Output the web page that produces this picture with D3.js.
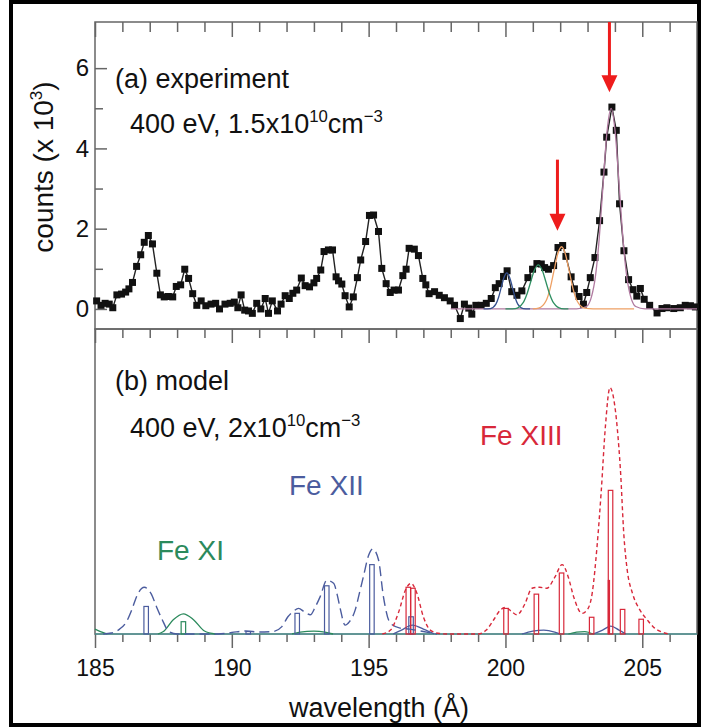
<!DOCTYPE html>
<html><head><meta charset="utf-8">
<script src="https://cdn.jsdelivr.net/npm/d3@7"></script>
<style>
body{margin:0;background:#fff}
text{font-family:"Liberation Sans",Arial,Helvetica,sans-serif}
</style>
</head><body>
<svg id="c" width="702" height="728"></svg>
<script>
// ---------------- DATA ----------------
const xTickLabels = [185, 190, 195, 200, 205];
const yTickLabels = [0, 2, 4, 6];

// (a) experiment: [wavelength Å, counts x10^3]
const expSpectrum = [
[185.06,0.20],[185.22,0.09],[185.37,0.14],[185.52,0.12],[185.65,0.03],[185.80,0.35],[185.97,0.37],[186.12,0.42],
[186.24,0.50],[186.37,0.66],[186.52,1.06],[186.67,1.35],[186.80,1.66],[186.95,1.83],[187.10,1.62],[187.26,0.89],
[187.39,0.35],[187.53,0.30],[187.68,0.31],[187.84,0.30],[187.97,0.56],[188.13,0.60],[188.28,0.99],[188.42,0.76],
[188.57,0.38],[188.72,0.09],[188.88,0.20],[189.05,0.08],[189.24,0.12],[189.41,0.14],[189.55,0.00],[189.75,0.12],
[189.94,0.14],[190.09,0.17],[190.22,0.03],[190.34,0.35],[190.47,-0.03],[190.61,-0.05],[190.75,-0.11],[190.91,0.14],
[191.06,0.00],[191.22,0.26],[191.34,-0.11],[191.48,0.20],[191.67,-0.05],[191.80,0.12],[191.95,0.33],[192.10,0.26],
[192.23,0.39],[192.37,0.47],[192.54,0.77],[192.68,0.58],[192.84,0.55],[193.00,0.65],[193.10,0.76],[193.25,0.97],
[193.37,1.43],[193.53,1.47],[193.68,1.47],[193.81,0.80],[193.90,0.70],[194.02,0.62],[194.14,0.33],[194.29,0.05],
[194.44,0.30],[194.59,0.78],[194.71,1.22],[194.89,1.68],[195.03,2.33],[195.18,2.34],[195.36,1.93],[195.48,1.01],
[195.64,0.63],[195.79,0.41],[195.93,0.47],[196.09,0.47],[196.25,0.83],[196.37,0.99],[196.48,1.51],[196.67,1.49],
[196.82,1.33],[196.98,0.76],[197.09,0.60],[197.21,0.38],[197.41,0.43],[197.58,0.34],[197.77,0.28],[197.98,0.20],
[198.14,0.09],[198.35,-0.24],[198.50,0.12],[198.66,0.02],[198.77,-0.13],[198.92,0.09],[199.11,0.09],[199.30,0.14],
[199.48,0.26],[199.63,0.53],[199.77,0.63],[199.93,0.81],[200.06,0.95],[200.23,0.43],[200.42,0.34],[200.60,0.45],
[200.82,0.78],[200.99,0.99],[201.15,1.13],[201.31,1.12],[201.43,1.03],[201.57,0.99],[201.76,1.08],[201.92,1.53],
[202.09,1.58],[202.21,1.31],[202.40,0.80],[202.52,0.50],[202.69,0.31],[202.85,0.12],[202.97,0.41],[203.10,0.78],
[203.27,1.28],[203.44,2.20],[203.60,3.41],[203.70,4.28],[203.89,5.03],[204.05,4.45],[204.17,2.62],[204.33,1.45],
[204.50,0.73],[204.66,0.48],[204.80,0.32],[204.93,0.51],[205.07,0.24],[205.27,0.09],[205.54,-0.10],[205.72,0.01],
[205.90,0.03],[206.15,0.01],[206.39,0.03],[206.57,0.09],[206.76,0.08],[206.94,0.05]
];

// fitted line profiles in (a)
const fitBlue = [[199.2,0],[199.45,0.01],[199.65,0.12],[199.75,0.29],[199.85,0.55],[199.95,0.79],[200.05,0.90],[200.15,0.79],[200.25,0.55],[200.35,0.29],[200.45,0.12],[200.65,0.01],[200.9,0]];
const fitGreen = [[200.0,0],[200.36,0.01],[200.64,0.15],[200.78,0.36],[200.92,0.67],[201.06,0.97],[201.2,1.10],[201.34,0.97],[201.48,0.67],[201.62,0.36],[201.76,0.15],[202.04,0.01],[202.3,0]];
const fitOrange = [[201.0,0],[201.21,0.02],[201.49,0.21],[201.63,0.50],[201.77,0.94],[201.91,1.37],[202.05,1.55],[202.19,1.37],[202.33,0.94],[202.47,0.50],[202.61,0.21],[202.89,0.02],[203.2,0],[204.7,0]];
const fitPurple = [[198.0,0],[202.6,0],[202.96,0.06],[203.26,0.68],[203.41,1.62],[203.56,3.03],[203.71,4.41],[203.86,5.0],[204.01,4.41],[204.16,3.03],[204.31,1.62],[204.46,0.68],[204.76,0.06],[205.1,0],[207,0]];

// red arrows in (a): wavelength, tail value, tip value
const arrowWavelength = [201.9, 203.8];
const arrowTail = [3.72, 7.15];
const arrowTip = [1.95, 5.40];

// (b) model (arbitrary units)
const feXIIIcurve = [[195.5,0],[195.8,0.08],[196.1,0.45],[196.35,0.9],[196.55,1.03],[196.75,0.85],[197.0,0.35],[197.25,0.08],[197.6,0.01],[197.9,0],
[199.0,0],[199.3,0.08],[199.57,0.29],[199.8,0.48],[200.0,0.54],[200.2,0.47],[200.42,0.39],[200.7,0.6],[200.97,0.93],[201.25,0.95],[201.51,0.93],
[201.8,1.15],[202.07,1.41],[202.3,1.15],[202.49,0.76],[202.8,0.42],[203.0,0.5],[203.17,0.83],[203.35,1.8],[203.5,2.9],[203.65,4.2],[203.82,5.01],
[203.95,4.8],[204.09,4.16],[204.2,3.35],[204.33,1.99],[204.45,1.3],[204.64,0.83],[204.9,0.5],[205.18,0.29],[205.45,0.12],[205.67,0.05],[205.98,0]];
const feXIIcurve = [[185.3,0],[185.6,0.02],[185.9,0.1],[186.15,0.25],[186.35,0.5],[186.55,0.8],[186.8,0.95],[187.05,0.82],[187.25,0.55],[187.45,0.3],[187.7,0.05],[188.0,0],
[189.5,0],[190.0,0.03],[190.5,0.06],[191.0,0.04],[191.5,0.05],[191.83,0.15],[192.05,0.35],[192.25,0.46],[192.44,0.52],[192.65,0.45],[192.87,0.39],[193.05,0.55],
[193.23,0.76],[193.47,1.09],[193.72,1.03],[193.85,0.8],[193.96,0.52],[194.14,0.18],[194.3,0.25],[194.51,0.49],[194.65,0.8],[194.81,1.17],[195.0,1.6],[195.15,1.73],
[195.36,1.51],[195.54,0.76],[195.79,0.22],[196.15,0.12],[196.5,0.1],[197.0,0.05],[197.5,0]];
const feXIIsolid = [
[[195.9,0],[196.2,0.08],[196.6,0.18],[197.0,0.1],[197.4,0]],
[[200.6,0],[201.0,0.06],[201.4,0.08],[201.8,0.04],[202.0,0]],
[[203.2,0],[203.55,0.08],[203.85,0.16],[204.15,0.08],[204.4,0]]];
const feXIsolid = [
[[185.0,0.1],[185.2,0.05],[185.45,0]],
[[187.3,0],[187.5,0.05],[187.86,0.29],[188.23,0.41],[188.6,0.29],[189.0,0.06],[189.4,0]],
[[192.2,0],[192.5,0.04],[193.0,0.06],[193.4,0.04],[193.7,0]],
[[202.3,0],[202.6,0.04],[202.9,0.05],[203.2,0]]];
const feXIIIbars = [[196.45,0.95],[196.62,0.93],[200.02,0.52],[201.13,0.81],[202.05,1.24],[203.15,0.34],[203.84,2.92],[204.28,0.5],[204.96,0.3]];
const feXIIIfilled = [[203.78,1.1]];
const feXIIbars = [[186.87,0.56],[190.6,0.05],[192.39,0.42],[193.47,0.98],[195.12,1.41],[196.55,0.35]];
const feXIbars = [[188.23,0.25]];

// ---------------- DRAW ----------------
const svg = d3.select("#c");
const L = 95, R = 697, T1 = 22, B1 = 329, T2 = 329, B2 = 634;
const FONT = "Liberation Sans, Arial, sans-serif";
const frameCol = "#666";
const ANN = 27;

const x = d3.scaleLinear().domain([185, 207]).range([L, R]);
const y1 = d3.scaleLinear().domain([-0.5, 7.15]).range([B1, T1]);
const y2 = d3.scaleLinear().domain([0, 6.2]).range([B2, T2]);

const minorX = d3.range(186, 207, 1).filter(v => v % 5 !== 0);
const majorX = d3.range(185, 208, 5);

// outer frame
svg.append("rect").attr("x", 11).attr("y", 2).attr("width", 688).attr("height", 723)
  .attr("fill", "none").attr("stroke", "#000").attr("stroke-width", 4);

function styleAxis(g){
  g.select(".domain").remove();
  g.selectAll("line").attr("stroke", frameCol).attr("stroke-width", 1.5);
  g.selectAll("text").attr("font-family", FONT).attr("fill", "#111");
}

// top panel top ticks (inward)
svg.append("g").attr("transform", `translate(0,${T1})`)
  .call(d3.axisBottom(x).tickValues(majorX).tickSize(15).tickFormat("")).call(styleAxis);
svg.append("g").attr("transform", `translate(0,${T1})`)
  .call(d3.axisBottom(x).tickValues(minorX).tickSize(10).tickFormat("")).call(styleAxis);
// bottom panel top ticks (inward)
svg.append("g").attr("transform", `translate(0,${T2})`)
  .call(d3.axisBottom(x).tickValues(majorX).tickSize(14).tickFormat("")).call(styleAxis);
svg.append("g").attr("transform", `translate(0,${T2})`)
  .call(d3.axisBottom(x).tickValues(minorX).tickSize(9).tickFormat("")).call(styleAxis);
// bottom axis (outward) with labels
svg.append("g").attr("transform", `translate(0,${B2})`)
  .call(d3.axisBottom(x).tickValues(xTickLabels).tickSize(14).tickPadding(12).tickFormat(d3.format("d")))
  .call(styleAxis).call(g => g.selectAll("text").attr("font-size", 23));
svg.append("g").attr("transform", `translate(0,${B2})`)
  .call(d3.axisBottom(x).tickValues(minorX).tickSize(8).tickFormat("")).call(styleAxis);
// left y ticks of top panel (inward)
svg.append("g").attr("transform", `translate(${L},0)`)
  .call(d3.axisRight(y1).tickValues(yTickLabels).tickSize(12).tickFormat("")).call(styleAxis);
svg.append("g").attr("transform", `translate(${L},0)`)
  .call(d3.axisRight(y1).tickValues([1,3,5]).tickSize(8).tickFormat("")).call(styleAxis);
svg.append("g").attr("transform", `translate(${L},0)`)
  .call(d3.axisLeft(y1).tickValues(yTickLabels).tickSize(0).tickPadding(6).tickFormat(d3.format("d")))
  .call(styleAxis).call(g => g.selectAll("text").attr("font-size", 24));

// panel frames
svg.append("rect").attr("x", L).attr("y", T1).attr("width", R - L).attr("height", B1 - T1)
  .attr("fill", "none").attr("stroke", frameCol).attr("stroke-width", 1.5);
svg.append("rect").attr("x", L).attr("y", T2).attr("width", R - L).attr("height", B2 - T2)
  .attr("fill", "none").attr("stroke", frameCol).attr("stroke-width", 1.5);

// ---- panel (a) ----
const lineA = d3.line().x(d => x(d[0])).y(d => y1(d[1]));
const smoothA = d3.line().x(d => x(d[0])).y(d => y1(d[1])).curve(d3.curveMonotoneX);

svg.append("path").datum(expSpectrum).attr("d", lineA)
  .attr("fill", "none").attr("stroke", "#222").attr("stroke-width", 1.4);
svg.append("g").selectAll("rect").data(expSpectrum).join("rect")
  .attr("x", d => x(d[0]) - 3.5).attr("y", d => y1(d[1]) - 3.5)
  .attr("width", 7).attr("height", 7).attr("fill", "#111");

[[fitPurple, "#b07aa0"], [fitOrange, "#eea064"], [fitBlue, "#34508f"], [fitGreen, "#2f8f62"]].forEach(([dat, col]) => {
  svg.append("path").datum(dat).attr("d", smoothA)
    .attr("fill", "none").attr("stroke", col).attr("stroke-width", 1.3);
});

// arrows
const arrowCol = "#ee1c1c";
arrowWavelength.forEach((w, i) => {
  const ax = x(w), yt = y1(arrowTail[i]), yp = y1(arrowTip[i]);
  svg.append("line").attr("x1", ax).attr("x2", ax).attr("y1", yt).attr("y2", yp - 14)
    .attr("stroke", arrowCol).attr("stroke-width", 3);
  svg.append("path").attr("d", `M${ax-8},${yp-17} L${ax+8},${yp-17} L${ax},${yp} Z`).attr("fill", arrowCol);
});

// annotation text helper
function sciText(g, xp, yp, parts, fs, fill){
  const t = g.append("text").attr("x", xp).attr("y", yp).attr("font-size", fs).attr("fill", fill || "#111");
  parts.forEach(p => {
    if (p.sup) t.append("tspan").attr("dy", -fs*0.42).attr("font-size", fs*0.62).text(p.t);
    else if (p.after) t.append("tspan").attr("dy", fs*0.42).text(p.t);
    else t.append("tspan").text(p.t);
  });
  return t;
}
sciText(svg, 115, 88, [{t:"(a) experiment"}], ANN);
sciText(svg, 130, 133, [{t:"400 eV, 1.5x10"},{t:"10",sup:1},{t:"cm",after:1},{t:"\u22123",sup:1}], ANN);
sciText(svg, 115, 390, [{t:"(b) model"}], ANN);
sciText(svg, 130, 437, [{t:"400 eV, 2x10"},{t:"10",sup:1},{t:"cm",after:1},{t:"\u22123",sup:1}], ANN);

// ---- panel (b) ----
const colXIII = "#d8283a", colXII = "#4b5c9e", colXI = "#2b8a5c";
const lineB = d3.line().x(d => x(d[0])).y(d => y2(d[1])).curve(d3.curveMonotoneX);

// baseline
svg.append("path").datum([[185,0],[207,0]]).attr("d", lineB)
  .attr("stroke", "#3aa0a0").attr("stroke-width", 1.2).attr("fill", "none");

feXIsolid.forEach(seg => svg.append("path").datum(seg).attr("d", lineB)
  .attr("fill", "none").attr("stroke", colXI).attr("stroke-width", 1.3));
feXIIsolid.forEach(seg => svg.append("path").datum(seg).attr("d", lineB)
  .attr("fill", "none").attr("stroke", colXII).attr("stroke-width", 1.3));

const barW = 4.5;
function bars(data, col){
  svg.append("g").selectAll("rect").data(data).join("rect")
    .attr("x", d => x(d[0]) - barW/2).attr("y", d => y2(d[1]))
    .attr("width", barW).attr("height", d => y2(0) - y2(d[1]))
    .attr("fill", "none").attr("stroke", col).attr("stroke-width", 1.2);
}
bars(feXIIbars, colXII);
bars(feXIbars, colXI);
bars(feXIIIbars, colXIII);
svg.append("g").selectAll("rect").data(feXIIIfilled).join("rect")
  .attr("x", d => x(d[0]) - 1.2).attr("y", d => y2(d[1]))
  .attr("width", 2.4).attr("height", d => y2(0) - y2(d[1])).attr("fill", colXIII);

svg.append("path").datum(feXIIcurve).attr("d", lineB)
  .attr("fill", "none").attr("stroke", colXII).attr("stroke-width", 1.4).attr("stroke-dasharray", "10,5");
svg.append("path").datum(feXIIIcurve).attr("d", lineB)
  .attr("fill", "none").attr("stroke", colXIII).attr("stroke-width", 1.4).attr("stroke-dasharray", "4,3");

sciText(svg, 157, 560, [{t:"Fe XI"}], 28, colXI);
sciText(svg, 289, 495, [{t:"Fe XII"}], 28, colXII);
sciText(svg, 480, 445, [{t:"Fe XIII"}], 28, colXIII);

// axis titles
svg.append("text").attr("x", 379).attr("y", 717).attr("text-anchor", "middle")
  .attr("font-size", 27).attr("fill", "#111").text("wavelength (\u00C5)");
const yl = svg.append("text").attr("transform", "translate(53,167) rotate(-90)")
  .attr("text-anchor", "middle").attr("font-size", 28).attr("fill", "#111");
yl.append("tspan").text("counts (x 10");
yl.append("tspan").attr("dy", -11).attr("font-size", 17).text("3");
yl.append("tspan").attr("dy", 11).text(")");
</script>
</body></html>
